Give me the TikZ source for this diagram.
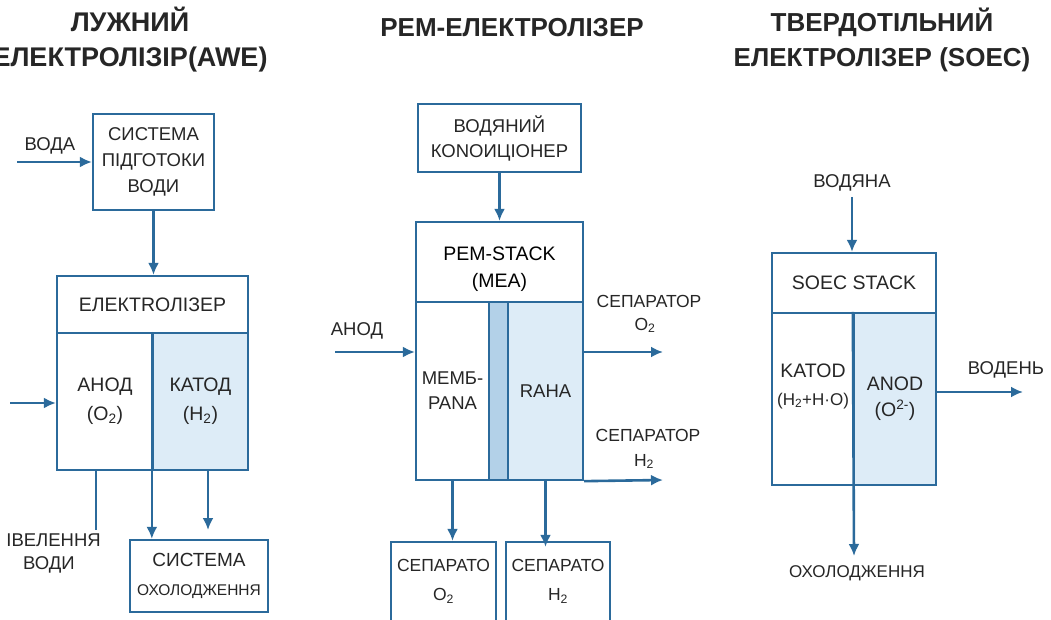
\documentclass[tikz,border=0pt]{standalone}
\usepackage{fontspec}
\setmainfont{Liberation Sans}
\usetikzlibrary{arrows.meta}
\definecolor{stroke}{HTML}{2B6A9B}
\definecolor{lightfill}{HTML}{DDECF7}
\definecolor{membfill}{HTML}{B3D1E8}
\definecolor{txt}{HTML}{262626}
\tikzset{
  box/.style={draw=stroke, line width=2.3pt, fill=white, inner sep=0pt, align=center, text=txt,
    font=\fontsize{19.5}{29}\selectfont},
  lbox/.style={box, fill=lightfill},
  mbox/.style={box, fill=membfill},
  arr/.style={draw=stroke, line width=2.6pt, -{Latex[length=12pt,width=11pt]}},
  ln/.style={draw=stroke, line width=2.6pt},
  lbl/.style={text=txt, inner sep=0pt, align=center, font=\fontsize{18.5}{25}\selectfont},
  ttl/.style={text=black!85, inner sep=0pt, align=center, font=\bfseries\fontsize{27}{35}\selectfont},
}
\begin{document}
\begin{tikzpicture}[x=1pt,y=-1pt]
\useasboundingbox[fill=white] (0,0) rectangle (1051,620);

% ---------- titles
\node[ttl] (t1) at (130,40) {ЛУЖНИЙ\\ЕЛЕКТРОЛІЗІР(AWE)};
\node[ttl,font=\bfseries\fontsize{26}{35}\selectfont] (t2) at (512,28) {РЕМ-ЕЛЕКТРОЛІЗЕР};
\node[ttl,font=\bfseries\fontsize{26}{35}\selectfont] (t3) at (882,40) {ТВЕРДОТІЛЬНИЙ\\ЕЛЕКТРОЛІЗЕР (SOEC)};

% ---------- left: AWE
\node[box, minimum width=121, minimum height=96, font=\fontsize{18.5}{26}\selectfont] (prep) at (153.5,162) {СИСТЕМА\\ПІДГОТОКИ\\ВОДИ};
\node[box, minimum width=191, minimum height=57] (elH) at (152.5,304.5) {ЕЛЕКТRОЛІЗЕР};
\node[box, minimum width=96, minimum height=137] (elA) at (105,401.5) {АНОД\\(O\textsubscript{2})};
\node[lbox, minimum width=95, minimum height=137] (elK) at (200.5,401.5) {КАТОД\\(H\textsubscript{2})};
\node[box, minimum width=138, minimum height=72, font=\fontsize{19}{29}\selectfont] (cool) at (199,576)
  {СИСТЕМА\\{\fontsize{15.5}{16}\selectfont ОХОЛОДЖЕННЯ}};

\node[lbl] (voda) at (50,146) {ВОДА};
\node[lbl, anchor=east] (drainA) at (101,540) {ІВЕЛЕННЯ};
\node[lbl] (drainB) at (49,565) {ВОДИ};

\coordinate (vodaIn) at (17,162);
\coordinate (elIn) at (10,403);
\coordinate (drain) at (96,530);
\coordinate (kOut) at (208,530);

\draw[arr] (vodaIn) -- (prep.west);
\draw[arr] (prep.south) -- (prep.south |- elH.north);
\draw[arr] (elIn) -- (elIn -| elA.west);
\draw[ln] (drain |- elA.south) -- (drain);
\draw[arr] (elK.north west) -- (elK.north west |- cool.north);
\draw[arr] (kOut |- elK.south) -- (kOut);

% ---------- middle: PEM
\node[box, minimum width=163, minimum height=68, font=\fontsize{18.5}{25}\selectfont] (cond) at (499.5,138) {ВОДЯНИЙ\\КОNОИЦІОНЕР};
\node[box, minimum width=167, minimum height=80, text=black] (pemH) at (499.5,262)
  {\raisebox{-6.5pt}[\height][\depth]{\begin{tabular}{@{}c@{}}PEM-STACK\\[-2pt](MEA)\end{tabular}}};
\node[box, minimum width=73, minimum height=178, font=\fontsize{18.5}{25}\selectfont] (pemL) at (452.5,391) {МЕМБ-\\PANA};
\node[mbox, minimum width=19, minimum height=178] (pemM) at (498.5,391) {};
\node[lbox, minimum width=75, minimum height=178, font=\fontsize{18.5}{25}\selectfont] (pemR) at (545.5,391) {RAHA};
\node[box, minimum width=105, minimum height=79, font=\fontsize{17.5}{29}\selectfont] (sepO) at (443.5,581.5) {СЕПАРАТО\\O\textsubscript{2}};
\node[box, minimum width=104, minimum height=79, font=\fontsize{17.5}{29}\selectfont] (sepH) at (558,581.5) {СЕПАРАТО\\H\textsubscript{2}};

\node[lbl] (anod) at (357,331) {АНОД};
\node[lbl, font=\fontsize{17.5}{23}\selectfont] (sepOlbl) at (649,314) {СЕПАРАТОР\\\hspace*{-8pt}O\textsubscript{2}};
\node[lbl, font=\fontsize{17.5}{25}\selectfont] (sepHlbl) at (648,449) {СЕПАРАТОР\\\hspace*{-8pt}H\textsubscript{2}};

\coordinate (anodIn) at (335,352);
\coordinate (o2Out) at (663,352);
\coordinate (h2Out) at (663,480);

\draw[arr] (cond.south) -- (cond.south |- pemH.north);
\draw[arr] (anodIn) -- (anodIn -| pemL.west);
\draw[arr] (o2Out -| pemR.east) -- (o2Out);
\draw[arr] (pemR.south east) -- (h2Out);
\draw[arr] (pemL.south) -- (pemL.south |- sepO.north);
\draw[arr] (pemR.south) -- ([yshift=-6pt]pemR.south |- sepH.north);

% ---------- right: SOEC
\node[box, minimum width=164, minimum height=60, font=\fontsize{19.5}{26}\selectfont] (soecH) at (854,283) {SOEC STACK};
\node[box, minimum width=82, minimum height=172] (soecK) at (813,399) {KATOD\\[-1pt]{\fontsize{17}{20}\selectfont (H\textsubscript{2}+H·O)}\\\mbox{}};
\node[lbox, minimum width=82, minimum height=172] (soecA) at (895,399) {ANOD\\[-3pt](O\textsuperscript{2-})};

\node[lbl] (vodyana) at (852,183) {ВОДЯНА};
\node[lbl] (voden) at (1006,370) {ВОДЕНЬ};
\node[lbl, font=\fontsize{17}{20}\selectfont] (cool2) at (857,573) {ОХОЛОДЖЕННЯ};

\coordinate (wIn) at (852,197);
\coordinate (hOut) at (1023,392);
\coordinate (cOut) at (854,556);

\draw[arr] (wIn) -- (wIn |- soecH.north);
\draw[arr] (hOut -| soecA.east) -- (hOut);
\draw[arr] (soecA.north west) -- (cOut);
\end{tikzpicture}
\end{document}
